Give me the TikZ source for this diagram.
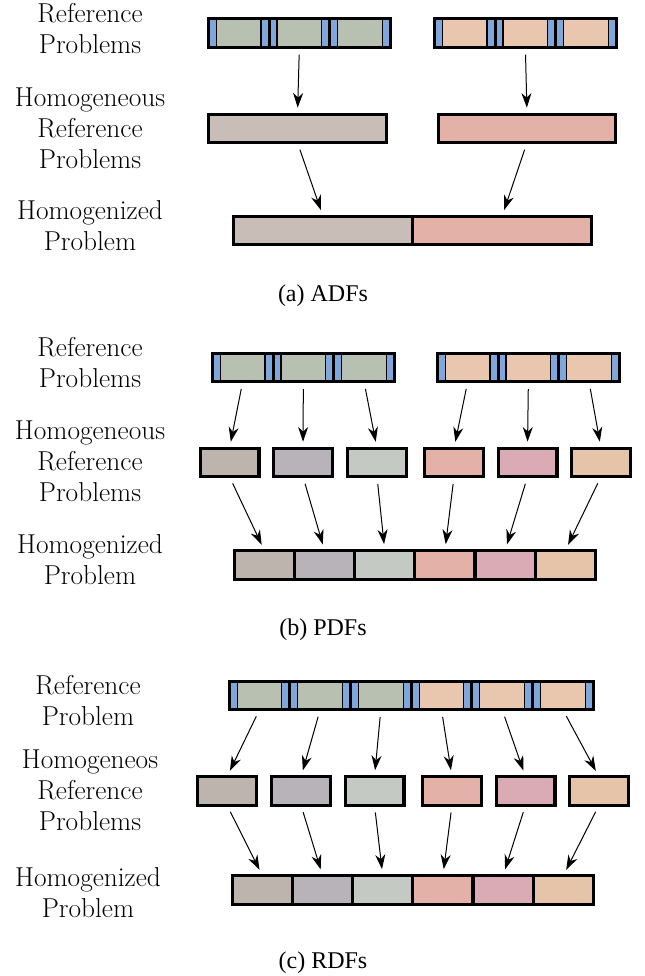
\documentclass[tikz,border=0pt]{standalone}
\usepackage{fontspec}
\newfontfamily\capfont{Liberation Serif}
\usetikzlibrary{arrows.meta,positioning}
\definecolor{sage}{HTML}{B7C0B1}
\definecolor{peach}{HTML}{E9C7AF}
\definecolor{barblue}{HTML}{7FA7DC}
\definecolor{taupe}{HTML}{C8BDB7}
\definecolor{stone}{HTML}{BEB4AE}
\definecolor{mauve}{HTML}{B8B2B9}
\definecolor{mist}{HTML}{C4CAC3}
\definecolor{salmon}{HTML}{E3B1A7}
\definecolor{rose}{HTML}{DAABB4}
\definecolor{apricot}{HTML}{E6C4AA}
\tikzset{blk/.style={draw=black,line width=2.3pt,fill=#1,minimum height=21.3pt,inner sep=0pt,outer sep=0pt},
seg/.style={blk=#1,minimum width=45.5pt,path picture={
\fill[barblue] (path picture bounding box.south west) rectangle ([xshift=6pt]path picture bounding box.north west);
\fill[barblue] (path picture bounding box.south east) rectangle ([xshift=-6pt]path picture bounding box.north east);
\draw[line width=0.9pt] ([xshift=6pt]path picture bounding box.south west) -- ([xshift=6pt]path picture bounding box.north west);
\draw[line width=0.9pt] ([xshift=-6pt]path picture bounding box.south east) -- ([xshift=-6pt]path picture bounding box.north east);}},
cell/.style={blk=#1,minimum width=44.2pt},
lab/.style={align=center,font=\fontsize{20.5}{23.25}\selectfont},
captext/.style={font=\capfont\fontsize{18}{20}\selectfont},
arr/.style={-{Stealth[length=11pt,width=7.5pt,inset=3.5pt]},line width=0.75pt,shorten <=5.5pt,shorten >=5pt}}
\begin{document}
\begin{tikzpicture}[x=0.75pt,y=-0.75pt]
\useasboundingbox (0,0) rectangle (644,976);
% (a) ADFs
\node[lab] (ra) at (90,29) {Reference\\Problems};
\node[lab] (rha) at (90,128) {Homogeneous\\Reference\\Problems};
\node[lab] (rga) at (90,226) {Homogenized\\Problem};
\node[seg=sage] (a1) at (238.7,33) {};
\node[seg=sage,right=0pt of a1] (a2) {};
\node[seg=sage,right=0pt of a2] (a3) {};
\node[seg=peach] (a4) at (464.7,33) {};
\node[seg=peach,right=0pt of a4] (a5) {};
\node[seg=peach,right=0pt of a5] (a6) {};
\node[blk=taupe,minimum width=133.5pt] (ha1) at (297.5,128.5) {};
\node[blk=salmon,minimum width=132.8pt] (ha2) at (527,128.5) {};
\node[blk=taupe,minimum width=134.3pt] (ga1) at (323,230.5) {};
\node[blk=salmon,minimum width=134.3pt,right=0pt of ga1] (ga2) {};
\draw[arr] (a2.south) -- (ha1.north);\draw[arr] (a5.south) -- (ha2.north);
\draw[arr] (ha1.south) -- (ga1.north);\draw[arr] (ha2.south) -- (ga2.north);
\node[captext] (capa) at (323,296) {(a) ADFs};
% (b) PDFs
\node[lab] (rb) at (90,363) {Reference\\Problems};
\node[lab] (rhb) at (90,461) {Homogeneous\\Reference\\Problems};
\node[lab] (rgb) at (90,560) {Homogenized\\Problem};
\node[seg=sage] (b1) at (242.7,367.5) {};
\node[seg=sage,right=0pt of b1] (b2) {};
\node[seg=sage,right=0pt of b2] (b3) {};
\node[seg=peach] (b4) at (467.7,367.5) {};
\node[seg=peach,right=0pt of b4] (b5) {};
\node[seg=peach,right=0pt of b5] (b6) {};
\node[cell=stone] (hb1) at (229.5,462.5) {};
\node[cell=mauve] (hb2) at (303,462.5) {};
\node[cell=mist] (hb3) at (377,462.5) {};
\node[cell=salmon] (hb4) at (454,462.5) {};
\node[cell=rose] (hb5) at (527.5,462.5) {};
\node[cell=apricot] (hb6) at (601,462.5) {};
\node[blk=stone,minimum width=45.1pt] (gb1) at (264.5,565) {};
\node[blk=mauve,minimum width=45.1pt,right=0pt of gb1] (gb2) {};
\node[blk=mist,minimum width=45.1pt,right=0pt of gb2] (gb3) {};
\node[blk=salmon,minimum width=45.1pt,right=0pt of gb3] (gb4) {};
\node[blk=rose,minimum width=45.1pt,right=0pt of gb4] (gb5) {};
\node[blk=apricot,minimum width=45.1pt,right=0pt of gb5] (gb6) {};
\draw[arr] (b1.south) -- (hb1.north);\draw[arr] (b2.south) -- (hb2.north);\draw[arr] (b3.south) -- (hb3.north);
\draw[arr] (b4.south) -- (hb4.north);\draw[arr] (b5.south) -- (hb5.north);\draw[arr] (b6.south) -- (hb6.north);
\draw[arr] (hb1.south) -- (gb1.north);\draw[arr] (hb2.south) -- (gb2.north);\draw[arr] (hb3.south) -- (gb3.north);
\draw[arr] (hb4.south) -- (gb4.north);\draw[arr] (hb5.south) -- (gb5.north);\draw[arr] (hb6.south) -- (gb6.north);
\node[captext] (capb) at (323,630) {(b) PDFs};
% (c) RDFs
\node[lab] (rc) at (88,701) {Reference\\Problem};
\node[lab] (rhc) at (90,790) {Homogeneos\\Reference\\Problems};
\node[lab] (rgc) at (88,893) {Homogenized\\Problem};
\node[seg=sage] (c1) at (259.5,695.5) {};
\node[seg=sage,right=0pt of c1] (c2) {};
\node[seg=sage,right=0pt of c2] (c3) {};
\node[seg=peach,right=0pt of c3] (c4) {};
\node[seg=peach,right=0pt of c4] (c5) {};
\node[seg=peach,right=0pt of c5] (c6) {};
\node[cell=stone] (hc1) at (227,791) {};
\node[cell=mauve] (hc2) at (301,791) {};
\node[cell=mist] (hc3) at (374.5,791) {};
\node[cell=salmon] (hc4) at (452,791) {};
\node[cell=rose] (hc5) at (525.5,791) {};
\node[cell=apricot] (hc6) at (599,791) {};
\node[blk=stone,minimum width=45.1pt] (gc1) at (262.5,890) {};
\node[blk=mauve,minimum width=45.1pt,right=0pt of gc1] (gc2) {};
\node[blk=mist,minimum width=45.1pt,right=0pt of gc2] (gc3) {};
\node[blk=salmon,minimum width=45.1pt,right=0pt of gc3] (gc4) {};
\node[blk=rose,minimum width=45.1pt,right=0pt of gc4] (gc5) {};
\node[blk=apricot,minimum width=45.1pt,right=0pt of gc5] (gc6) {};
\draw[arr] (c1.south) -- (hc1.north);\draw[arr] (c2.south) -- (hc2.north);\draw[arr] (c3.south) -- (hc3.north);
\draw[arr] (c4.south) -- (hc4.north);\draw[arr] (c5.south) -- (hc5.north);\draw[arr] (c6.south) -- (hc6.north);
\draw[arr] (hc1.south) -- (gc1.north);\draw[arr] (hc2.south) -- (gc2.north);\draw[arr] (hc3.south) -- (gc3.north);
\draw[arr] (hc4.south) -- (gc4.north);\draw[arr] (hc5.south) -- (gc5.north);\draw[arr] (hc6.south) -- (gc6.north);
\node[captext] (capc) at (323,963) {(c) RDFs};
\end{tikzpicture}
\end{document}
